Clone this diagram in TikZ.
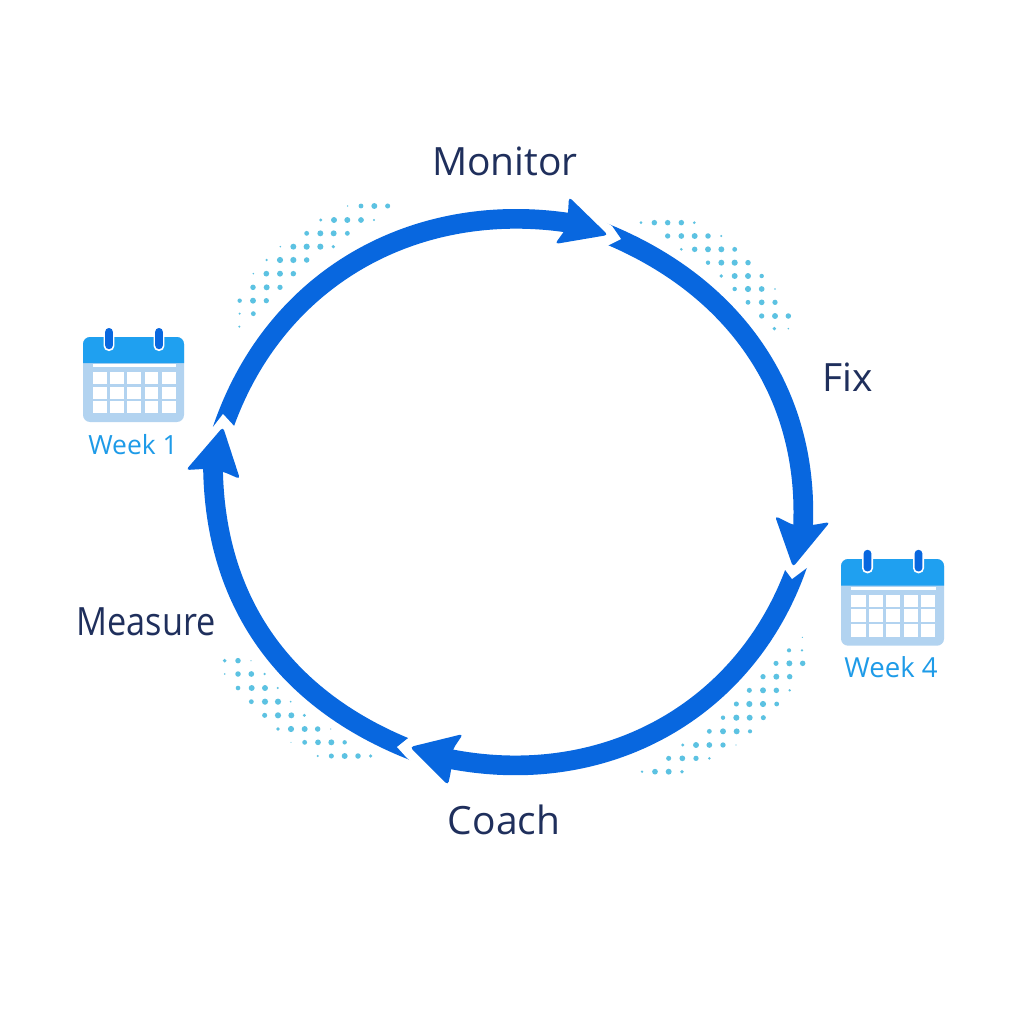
\documentclass[tikz,border=0pt]{standalone}
\usepackage{fontspec}
\usepackage{graphicx}
\setmainfont{Open Sans}
\definecolor{arrowc}{HTML}{0867DF}
\definecolor{labelc}{HTML}{1F2F5C}
\definecolor{weekc}{HTML}{1E9BE8}
\definecolor{dotc}{HTML}{5CC2E2}
\definecolor{calhead}{HTML}{1FA0F0}
\definecolor{calbody}{HTML}{B2D3F0}
\tikzset{
 shaft/.style={draw=arrowc,line width=14pt,line cap=butt},
 headshape/.style={fill=arrowc,rounded corners=2.5pt},
 notchshape/.style={fill=white},
 steplabel/.style={text=labelc,font=\fontsize{27.7pt}{30pt}\selectfont,anchor=base,inner sep=0pt},
 weeklabel/.style={text=weekc,font=\fontsize{18.8pt}{20pt}\selectfont,anchor=base,inner sep=0pt},
 dotm/.style={fill=dotc},
 calicon/.pic={
  \fill[calbody,rounded corners=5] (0,0) rectangle (101,85);
  \fill[calhead] (0,26) [rounded corners=5] -- (0,0) -- (101,0) [sharp corners] -- (101,26) -- cycle;
  \fill[white] (10,27) rectangle (93,30);
  \foreach \i in {0,1,2,3,4}{\foreach \j in {0,1,2}{
    \fill[white] ({10.2+\i*17.1},{35+\j*14.5}) rectangle ++(13.9,12);}}
  \foreach \rx in {26,76}{
    \fill[white,rounded corners=3.6] ({\rx-5.4},-9) rectangle ({\rx+5.4},14);
    \fill[arrowc,rounded corners=2.7] ({\rx-3.85},-9) rectangle ({\rx+3.85},12.2);}
 }
}
\newcommand{\dotgroup}[3]{\foreach \x/\y/\r in {#3}{\fill[dotm] ({#1+\x/3},{#2+\y/3}) circle[radius=\r*1.1];}}
\begin{document}
\begin{tikzpicture}[x=0.025cm,y=-0.025cm]
\useasboundingbox (0,0) rectangle (1024,1024);
\fill[white] (0,0) rectangle (1024,1024);
% dots
\dotgroup{540}{180}{303/128/1.3,343/128/2.5,383/128/2.5,424/128/2.5,463/128/1.3,
383/168/2.4,424/168/2.6,464/168/2.7,504/168/2.5,544/168/1,
424/208/1.3,464/208/2.5,504/208/2.7,544/208/2.7,584/208/2.2,
504/248/2,544/248/2.7,584/248/2.8,624/248/2.5,
544/288/1.7,584/288/2.7,624/288/2.7,665/288/2,
584/327/2,624/327/2.8,665/327/2.6,705/327/.8,
624/367/2.2,665/367/2.6,705/367/2.4,
665/408/2.4,705/408/2.7,745/408/2.5,
703/446/1.7,745/446/.8}
\dotgroup{225}{190}{368/48/.7,408/48/2.2,448/48/2.7,488/48/2.3,
287/90/1.5,327/90/2.7,367/90/2.7,408/90/2.6,447/90/1,
245/130/2.2,286/130/2.7,326/130/2.7,367/130/2.2,
166/170/.8,205/170/2.7,245/170/2.8,286/170/2.8,325/170/1.6,
125/210/1.2,165/210/2.8,205/210/2.8,245/210/2.5,
85/251/.8,124/251/2.6,165/251/2.7,205/251/2.5,
84/292/2.5,125/292/2.7,165/292/2.4,
44/332/2,84/332/2.7,124/332/2.4,
44/371/1,85/371/2.2,
43/410/1}
\dotgroup{630}{630}{517/22/.6,
477/61/1.9,516/61/1.2,
438/100/2.3,478/100/2.7,518/100/2.5,
399/140/2.4,439/140/2.7,479/140/2.5,
358/181/2.3,399/181/2.7,439/181/2.5,479/181/1.2,
319/222/2.3,358/222/2.8,399/222/2.8,440/222/2.2,
279/263/2,319/263/2.8,359/263/2.7,400/263/2.3,
238/304/2.2,279/304/2.7,320/304/2.7,360/304/1.9,
158/345/1.5,198/345/2.7,238/345/2.6,279/345/2.4,318/345/.5,
116/385/2.3,157/385/2.6,198/385/2.4,238/385/1.3,
36/425/1.2,75/425/2.6,116/425/2.7,156/425/1.7}
\dotgroup{210}{640}{44/62/1.8,84/62/2.5,123/62/.6,
44/102/.8,84/102/2.5,124/102/2.6,164/102/1.2,
84/144/2.1,125/144/2.7,165/144/2.7,203/144/1,
124/185/2.2,165/185/2.8,204/185/2.8,242/185/.9,
164/226/2.3,204/226/2.8,244/226/2.7,283/226/1.5,
204/267/1.8,243/267/2.8,284/267/2.7,323/267/2.5,362/267/.6,
243/307/.5,284/307/2.2,324/307/2.6,364/307/2.7,404/307/2,
323/348/1,364/348/2.3,404/348/2.7,444/348/2.5,482/348/1.6}
% shafts
\coordinate (tailA) at (219,440); \coordinate (endA) at (570,223);
\coordinate (tailB) at (602,232); \coordinate (endB) at (803,527);
\coordinate (tailC) at (801,554); \coordinate (endC) at (450,759);
\coordinate (tailD) at (414,751); \coordinate (endD) at (213,468);
\draw[shaft] (tailA) .. controls (268,280) and (413,199) .. (endA);
\draw[shaft] (tailB) .. controls (735,285) and (809,393) .. (endB);
\draw[shaft] (tailC) .. controls (754,706) and (610,790) .. (endC);
\draw[shaft] (tailD) .. controls (283,700) and (215,601) .. (endD);
% tail notches
\fill[notchshape] (204,427) -- (213,427) -- (223,414) -- (235,427) -- (245,427) -- (245,448) -- (204,448) -- cycle;
\fill[notchshape] (612,226) -- (621,239) -- (609,245) -- (590,256) -- (590,212) -- cycle;
\fill[notchshape] (808,567) -- (792,579) -- (783,567) -- (775,545) -- (825,545) -- cycle;
\fill[notchshape] (407,739) -- (397,747) -- (407,758) -- (425,772) -- (425,728) -- cycle;
% heads
\fill[headshape] (608,235) -- (569,197) -- (568,213) -- (565,230) -- (555,244) -- cycle;
\fill[headshape] (793,567) -- (775,516) -- (793,525) -- (813,525) -- (830,522) -- cycle;
\fill[headshape] (410,747) -- (463,734) -- (453,749) -- (451,771) -- (448,785) -- cycle;
\fill[headshape] (223,427) -- (186,470) -- (203,469) -- (224,472) -- (240,479) -- cycle;
% labels
\node[steplabel] (monitor) at (505,176) {Monitor};
\node[steplabel] (fix) at (848,391) {Fix};
\node[steplabel] (measure) at (146,635) {\scalebox{.88}[1]{Measure}};
\node[steplabel] (coach) at (504,834) {Coach};
% calendars
\pic at (83,337) {calicon};
\pic[scale=1.02] at (841,559) {calicon};
\node[weeklabel] (week1) at (133,454) {Week 1};
\node[weeklabel,font=\fontsize{19.6pt}{20pt}\selectfont] (week4) at (891,677) {Week 4};
\end{tikzpicture}
\end{document}
